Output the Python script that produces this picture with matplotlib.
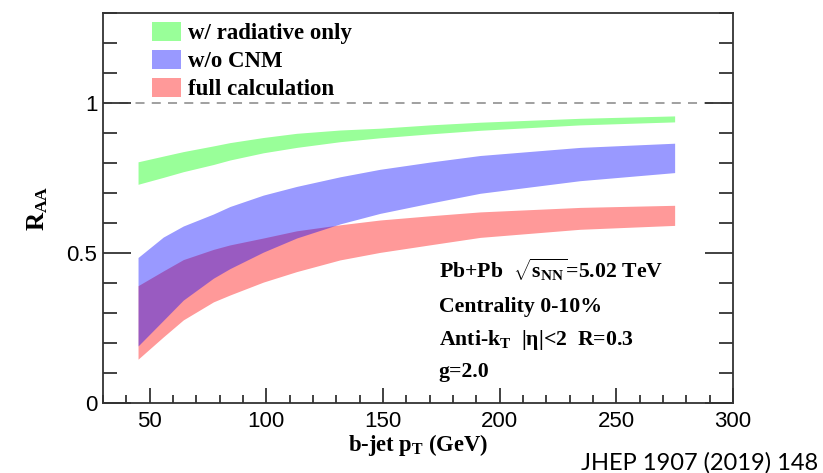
import numpy as np
import matplotlib
matplotlib.use('Agg')
import matplotlib.pyplot as plt
from matplotlib.patches import Patch
from matplotlib.ticker import MultipleLocator, FuncFormatter

# b-jet pT grid (GeV) and band edges
pt = [45, 55.8, 64.4, 77.3, 84.4, 98.7, 113, 131.6, 148.7, 170, 191.6, 234.4, 275]

rad_lo = [0.729, 0.752, 0.771, 0.795, 0.810, 0.834, 0.852, 0.871, 0.884, 0.897, 0.909, 0.927, 0.937]
rad_hi = [0.804, 0.823, 0.838, 0.857, 0.868, 0.885, 0.899, 0.910, 0.916, 0.927, 0.936, 0.949, 0.957]

nocnm_lo = [0.190, 0.275, 0.343, 0.416, 0.448, 0.503, 0.550, 0.597, 0.632, 0.666, 0.699, 0.741, 0.768]
nocnm_hi = [0.485, 0.553, 0.590, 0.630, 0.655, 0.693, 0.722, 0.754, 0.779, 0.803, 0.825, 0.852, 0.866]

full_lo = [0.146, 0.220, 0.277, 0.337, 0.360, 0.403, 0.438, 0.477, 0.502, 0.527, 0.552, 0.579, 0.592]
full_hi = [0.391, 0.440, 0.478, 0.512, 0.527, 0.550, 0.574, 0.594, 0.610, 0.624, 0.637, 0.652, 0.659]

labels = ['w/ radiative only', 'w/o CNM', 'full calculation']

plt.rcParams['font.family'] = ['Liberation Serif', 'DejaVu Serif']
plt.rcParams['mathtext.fontset'] = 'custom'
plt.rcParams['mathtext.rm'] = 'Liberation Serif:bold'
plt.rcParams['mathtext.it'] = 'Liberation Serif:bold'
plt.rcParams['mathtext.bf'] = 'Liberation Serif:bold'

# translucent fills, so the overlap of blue over red comes out purple
green = (0, 1, 0, 0.4)
blue = (0, 0, 1, 0.4)
red = (1, 0, 0, 0.4)

fig = plt.figure(figsize=(8.23, 4.73), dpi=100)
ax = fig.add_axes([0.1252, 0.148, 0.7654, 0.8245])

ax.fill_between(pt, rad_lo, rad_hi, color=green, lw=0)
ax.fill_between(pt, full_lo, full_hi, color=red, lw=0)
ax.fill_between(pt, nocnm_lo, nocnm_hi, color=blue, lw=0)

ax.axhline(1.0, color='#999999', ls=(0, (5, 4)), lw=1.3, zorder=1)

ax.set_xlim(30, 300)
ax.set_ylim(0, 1.3)
ax.xaxis.set_major_locator(MultipleLocator(50))
ax.xaxis.set_minor_locator(MultipleLocator(10))
ax.yaxis.set_major_locator(MultipleLocator(0.5))
ax.yaxis.set_minor_locator(MultipleLocator(0.1))
ax.yaxis.set_major_formatter(FuncFormatter(lambda v, p: '%g' % v))

ax.tick_params(axis='both', which='both', direction='in', color='#333333', width=1.3)
ax.tick_params(axis='y', which='major', length=20, right=True)
ax.tick_params(axis='y', which='minor', length=10, right=True)
ax.tick_params(axis='x', which='major', length=11, top=False)
ax.tick_params(axis='x', which='minor', length=6, top=False)
for lab in ax.get_xticklabels() + ax.get_yticklabels():
    lab.set_family('Liberation Sans')
    lab.set_fontsize(16)
ax.tick_params(axis='x', pad=6)
ax.tick_params(axis='y', pad=4)
for sp in ax.spines.values():
    sp.set_linewidth(1.3)
    sp.set_color('#333333')

ax.set_xlabel('b-jet p$_\\mathrm{T}$ (GeV)', fontsize=16.3, fontweight='bold')
ax.xaxis.set_label_coords(0.5, -0.075)
ax.set_ylabel('R$_\\mathrm{AA}$', fontsize=18, fontweight='bold')
ax.yaxis.set_label_coords(-0.084, 0.50)

handles = [Patch(facecolor=green, lw=0), Patch(facecolor=blue, lw=0), Patch(facecolor=red, lw=0)]
ax.legend(handles, labels, loc='upper left', bbox_to_anchor=(0.078, 0.977), frameon=False,
          prop={'family': 'Liberation Serif', 'weight': 'bold', 'size': 16.5},
          handlelength=1.27, handleheight=0.88, handletextpad=0.3, labelspacing=0.25,
          borderpad=0, borderaxespad=0)

txt = dict(fontsize=15.7, fontweight='bold', transform=ax.transAxes, va='center', ha='left')
ax.text(0.533, 0.341, 'Pb+Pb  $\\sqrt{\\mathrm{s}_{\\mathrm{NN}}}$=5.02 TeV', **txt)
ax.text(0.533, 0.246, 'Centrality 0-10%', **txt)
ax.text(0.533, 0.1615, 'Anti-k$_\\mathrm{T}$  |η|<2  R=0.3', **txt)
ax.text(0.533, 0.0795, 'g=2.0', **txt)

fig.text(0.9935, 0.022, 'JHEP 1907 (2019) 148', family='Lato', fontsize=17,
         ha='right', va='center')

fig.savefig('out.png', dpi=100)
